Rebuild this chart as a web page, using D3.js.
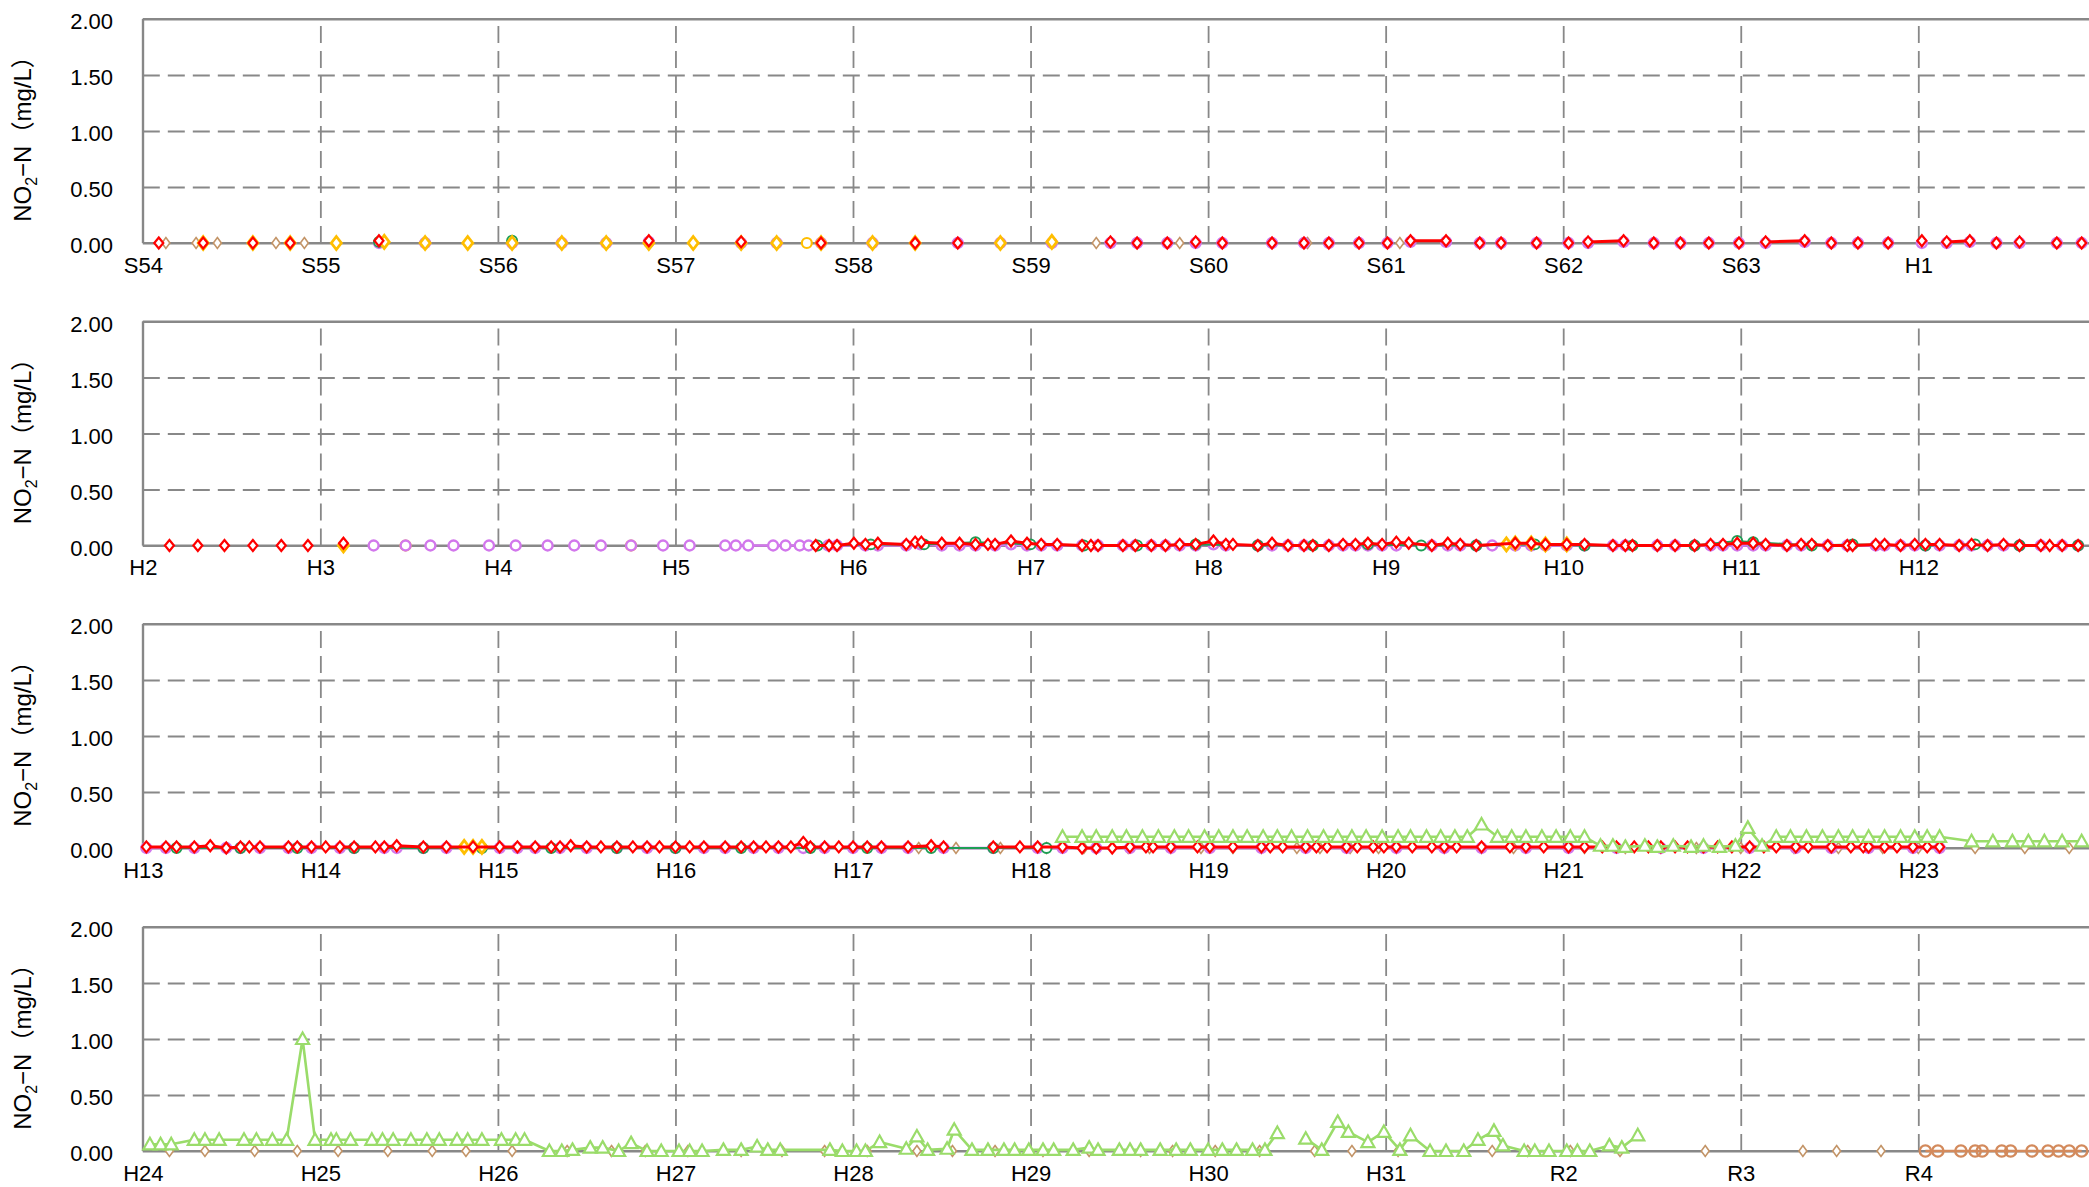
<!DOCTYPE html>
<html><head><meta charset="utf-8">
<script src="https://cdn.jsdelivr.net/npm/d3@7"></script>
<style>body{margin:0;background:#fff;overflow:hidden}svg{display:block}</style>
</head><body>
<svg id="chart" width="2089" height="1187"></svg>
<script>
// ---------- DATA ----------
const panelStartYears = [1979, 1990, 2001, 2012];
const yearLabels = ["S54","S55","S56","S57","S58","S59","S60","S61","S62","S63","H1",
  "H2","H3","H4","H5","H6","H7","H8","H9","H10","H11","H12",
  "H13","H14","H15","H16","H17","H18","H19","H20","H21","H22","H23",
  "H24","H25","H26","H27","H28","H29","H30","H31","R2","R3","R4"];
const yTickValues = [0, 0.5, 1.0, 1.5, 2.0];
const yTitleMain = "NO", yTitleSub = "2", yTitleRest = "\u2212N\uFF08mg/L\uFF09";

// each series: [decimal year, mg/L]; null = break in the line
const tanDiamond = [
 [1979.13,0],null,[1979.30,0],null,[1979.42,0],null,[1979.75,0],null,[1979.91,0],null,
 [1984.37,0],null,[1984.60,0],null,[1984.84,0],null,[1985.08,0],null,[1985.36,0],null,[1985.56,0],null,[1985.85,0],null,[1986.08,0],null,
 [2005.37,0],null,[2005.58,0],null,[2005.83,0],null,[2006.09,0],null,[2006.30,0],null,[2006.55,0],null,[2006.67,0],null,[2006.79,0],null,
 [2006.96,0],null,[2007.14,0],null,[2007.30,0],null,[2007.50,0],null,[2007.63,0],null,[2007.80,0],null,[2007.96,0],null,[2008.06,0],null,
 [2008.33,0],null,[2008.54,0],null,[2008.72,0],null,[2009.12,0],null,[2009.35,0],null,[2009.55,0],null,[2009.75,0],null,[2010.00,0],null,
 [2010.30,0],null,[2010.55,0],null,[2010.80,0],null,[2011.00,0],null,[2011.32,0],null,[2011.60,0],null,[2011.85,0],null,
 [2012.15,0],null,[2012.35,0],null,[2012.63,0],null,[2012.87,0],null,[2013.10,0],null,[2013.38,0],null,[2013.63,0],null,[2013.82,0],null,
 [2014.08,0],null,[2014.39,0],null,[2014.64,0],null,[2014.83,0],null,[2015.07,0],null,[2015.37,0],null,[2015.60,0],null,[2015.84,0],null,
 [2016.08,0],null,[2016.36,0],null,[2016.56,0],null,[2016.80,0],null,[2017.07,0],null,[2017.33,0],null,[2017.62,0],null,[2017.80,0],null,
 [2018.04,0],null,[2018.29,0],null,[2018.60,0],null,[2018.81,0],null,[2019.07,0],null,[2019.60,0],null,[2019.80,0],null,[2020.04,0],null,
 [2020.32,0],null,[2020.80,0],null,[2021.35,0],null,[2021.54,0],null,[2021.79,0]
];

const orangeCircle = [[1982.74,0],null,[1991.48,0],null,[1992.75,0]];

const purpleCircle = [
 [1980.33,0],null,[1980.59,0],null,[1981.08,0],null,[1981.36,0],null,[1981.61,0],null,[1981.85,0.01],null,[1982.37,0],null,[1982.57,0],null,
 [1982.82,0],null,[1983.11,0],null,[1983.59,0],null,[1983.83,0],null,[1984.12,0],null,[1984.45,0],null,[1984.60,0],null,[1984.77,0],null,
 [1984.93,0],null,[1985.08,0],null,[1985.36,0],null,[1985.54,0],null,[1985.68,0],null,[1985.85,0],null,[1986.01,0],null,[1986.14,0.01],null,
 [1986.34,0.01],null,[1986.53,0],null,[1986.65,0],null,[1986.85,0],null,[1987.03,0],null,[1987.14,0],null,[1987.34,0.01],null,[1987.51,0],null,
 [1987.66,0],null,[1987.82,0],null,[1987.99,0],null,[1988.14,0],null,[1988.36,0.01],null,[1988.51,0],null,[1988.66,0],null,[1988.83,0],null,
 [1989.02,0],null,[1989.16,0],null,[1989.29,0.01],null,[1989.44,0],null,[1989.57,0],null,[1989.78,0],null,[1989.92,0],null,
 [1991.30,0],null,[1991.48,0],null,[1991.62,0],null,[1991.75,0],null,[1991.95,0],null,[1992.10,0],null,[1992.28,0],null,[1992.43,0],null,
 [1992.58,0],null,[1992.75,0],null,[1992.93,0],null,[1993.08,0],null,
 [1993.28,0],[1993.34,0],[1993.41,0],[1993.55,0],[1993.62,0],[1993.70,0],[1993.75,0],[1993.86,0],[1993.91,0],[1994.07,0],[1994.14,0],
 [1994.30,0],[1994.38,0.01],[1994.50,0],[1994.60,0],[1994.69,0],[1994.80,0],[1994.89,0.01],[1994.98,0],[1995.06,0],[1995.15,0],[1995.29,0],
 [1995.38,0],[1995.52,0],[1995.59,0],[1995.68,0],[1995.76,0],[1995.84,0],[1995.93,0],[1996.03,0.01],[1996.10,0],[1996.28,0],[1996.36,0],
 [1996.45,0],[1996.54,0],[1996.68,0],[1996.76,0],[1996.83,0],[1996.90,0],[1996.98,0],[1997.06,0],[1997.26,0],[1997.35,0],[1997.42,0],
 [1997.51,0],[1997.60,0],[1997.73,0],[1997.82,0],[1997.90,0],[1998.02,0],[1998.12,0],[1998.28,0],[1998.35,0],[1998.53,0],[1998.63,0],
 [1998.74,0],[1998.83,0],[1998.90,0],[1998.98,0],[1999.07,0],[1999.14,0],[1999.26,0],[1999.34,0],[1999.49,0],[1999.60,0],[1999.76,0],
 [1999.81,0],[1999.90,0],[1999.98,0],[2000.04,0],[2000.12,0],[2000.23,0],[2000.30,0],[2000.39,0],[2000.48,0],[2000.57,0],[2000.69,0],
 [2000.81,0],[2000.90,0],
 [2001.02,0],[2001.13,0],[2001.29,0],[2001.47,0],[2001.55,0],[2001.66,0],[2001.82,0],[2001.95,0],[2002.11,0],[2002.19,0],[2002.36,0],
 [2002.43,0],[2002.58,0],[2002.71,0],[2003.01,0],[2003.11,0],[2003.21,0],[2003.35,0],[2003.50,0],[2003.67,0],[2003.84,0],[2004.00,0],
 [2004.16,0],[2004.28,0],[2004.44,0],[2004.58,0],[2004.72,0],[2004.84,0],[2005.00,0],[2005.16,0],[2005.31,0],[2005.51,0],[2005.79,0],
 [2006.04,0],[2006.18,0],[2006.37,0],[2006.56,0],[2006.79,0],[2007.01,0],[2007.30,0],[2007.55,0],[2007.78,0],[2008.06,0],[2008.33,0],
 [2008.54,0],[2008.79,0],[2009.03,0],[2009.30,0],[2009.55,0],[2009.79,0],[2010.05,0],[2010.31,0],[2010.51,0],[2010.72,0],[2010.97,0],
 [2011.12,0]
];

const greenCircle = [
 [1980.33,0.01],null,[1981.08,0.02],null,
 [1993.80,0],[1994.10,0.01],[1994.40,0.01],[1994.69,0.03],[1995.00,0.01],[1995.30,0],[1995.60,0],[1995.93,0.01],[1996.28,0],[1996.59,0],
 [1996.90,0.01],[1997.20,0],[1997.51,0],[1997.84,0.01],[1998.12,0],[1998.39,0],[1998.74,0],[1998.98,0.04],[1999.07,0.03],[1999.40,0],
 [1999.63,0.01],[2000.04,0],[2000.32,0.01],[2000.57,0],[2000.90,0],
 [2001.19,0],[2001.55,0],[2001.87,0],[2002.19,0],[2002.58,0],[2002.91,0],[2003.30,0],[2003.67,0],[2004.00,0],[2004.37,0],[2004.76,0],
 [2005.08,0],[2005.44,0],[2005.79,0],[2006.09,0]
];

const orangeDiamond = [
 [1979.34,0],null,[1979.62,0],null,[1979.83,0],null,[1980.09,0],null,[1980.36,0.01],null,[1980.59,0],null,[1980.83,0],null,[1981.08,0],null,
 [1981.36,0],null,[1981.61,0],null,[1981.85,0],null,[1982.10,0],null,[1982.37,0],null,[1982.57,0],null,[1982.82,0],null,[1983.11,0],null,
 [1983.35,0],null,[1983.83,0],null,[1984.12,0.01],null,[1991.13,0],null,
 [1997.68,0.01],[1997.73,0.02],[1997.82,0.02],[1997.90,0.01],[1998.02,0.01],null,
 [2002.81,0.01],[2002.86,0.01],[2002.91,0.01]
];

const redDiamond = [
 [1979.09,0],null,[1979.34,0],null,[1979.62,0],null,[1979.83,0],null,[1980.33,0.02],null,[1981.85,0.02],null,[1982.37,0.01],null,
 [1982.82,0],null,[1983.35,0],null,[1983.59,0],null,[1984.45,0.01],null,[1984.60,0],null,[1984.77,0],null,[1984.93,0.01],null,
 [1985.08,0],null,[1985.36,0],null,[1985.54,0],null,[1985.68,0],null,[1985.85,0],null,[1986.01,0],null,
 [1986.14,0.02],[1986.34,0.02],null,[1986.53,0],null,[1986.65,0],null,[1986.85,0],null,[1987.03,0],null,
 [1987.14,0.01],[1987.34,0.02],null,[1987.51,0],null,[1987.66,0],null,[1987.82,0],null,[1987.99,0],null,
 [1988.14,0.01],[1988.36,0.02],null,[1988.51,0],null,[1988.66,0],null,[1988.83,0],null,[1989.02,0.02],null,
 [1989.16,0.01],[1989.29,0.02],null,[1989.44,0],null,[1989.57,0.01],null,[1989.78,0],null,[1989.92,0],null,
 [1990.15,0],null,[1990.31,0],null,[1990.46,0],null,[1990.62,0],null,[1990.78,0],null,[1990.93,0],null,[1991.13,0.02],null,
 [1993.79,0],[1993.865,0],[1993.91,0],[1994.005,0.02],[1994.07,0.01],[1994.14,0.02],[1994.30,0.01],[1994.35,0.03],[1994.385,0.03],
 [1994.50,0.02],[1994.60,0.02],[1994.69,0.01],[1994.76,0.01],[1994.80,0.01],[1994.89,0.04],[1994.98,0.02],[1995.06,0.01],[1995.15,0.01],
 [1995.29,0],[1995.34,0],[1995.38,0],[1995.52,0],[1995.59,0],[1995.68,0],[1995.76,0],[1995.84,0.01],[1995.93,0.01],[1996.03,0.04],
 [1996.10,0.01],[1996.14,0.01],[1996.28,0],[1996.36,0.02],[1996.45,0],[1996.54,0],[1996.59,0],[1996.68,0],[1996.76,0.01],[1996.83,0.01],
 [1996.90,0.02],[1996.98,0.01],[1997.06,0.03],[1997.13,0.02],[1997.26,0],[1997.35,0.02],[1997.42,0.01],[1997.51,0],[1997.73,0.02],
 [1997.82,0.02],[1997.90,0.01],[1998.02,0.01],[1998.12,0.01],[1998.28,0],[1998.35,0],[1998.39,0],[1998.53,0],[1998.63,0],[1998.74,0],
 [1998.83,0.01],[1998.90,0.01],[1998.98,0.02],[1999.07,0.02],[1999.14,0.01],[1999.26,0],[1999.34,0.01],[1999.40,0.01],[1999.49,0],
 [1999.60,0],[1999.63,0],[1999.76,0.01],[1999.81,0.01],[1999.90,0],[1999.98,0.01],[2000.04,0.01],[2000.12,0.01],[2000.23,0],[2000.30,0.01],
 [2000.39,0],[2000.48,0.01],[2000.57,0],[2000.69,0],[2000.74,0],[2000.81,0],[2000.90,0],
 [2001.02,0.01],[2001.13,0.01],[2001.19,0.01],[2001.29,0.01],[2001.38,0.02],[2001.47,0],[2001.55,0.01],[2001.60,0.01],[2001.66,0.01],
 [2001.82,0.01],[2001.87,0.01],[2001.95,0.01],[2002.03,0.01],[2002.11,0.01],[2002.19,0.01],[2002.31,0.01],[2002.36,0.01],[2002.43,0.02],
 [2002.58,0.01],[2002.71,0.01],[2002.86,0.01],[2003.01,0.01],[2003.11,0.01],[2003.21,0.01],[2003.30,0.01],[2003.35,0.01],[2003.41,0.02],
 [2003.50,0.01],[2003.58,0.01],[2003.67,0.01],[2003.76,0.01],[2003.84,0.01],[2003.91,0.01],[2004.00,0.01],[2004.08,0.01],[2004.16,0.01],
 [2004.28,0.01],[2004.37,0.01],[2004.44,0.01],[2004.51,0.01],[2004.58,0.01],[2004.65,0.01],[2004.72,0.05],[2004.76,0.01],[2004.84,0.01],
 [2004.92,0.01],[2005.00,0.01],[2005.08,0.01],[2005.16,0.01],[2005.31,0.01],[2005.44,0.02],[2005.51,0.01],null,
 [2005.79,0.01],[2005.94,0.01],[2006.04,0.01],[2006.18,0.01],[2006.29,0],[2006.37,0],[2006.46,0],[2006.56,0.01],[2006.65,0.01],
 [2006.69,0.01],[2006.79,0.01],[2006.94,0.01],[2007.01,0.01],[2007.14,0.01],[2007.30,0.01],[2007.35,0.01],[2007.42,0.01],[2007.55,0.01],
 [2007.61,0.01],[2007.67,0.01],[2007.78,0.01],[2007.84,0.01],[2007.93,0.01],[2007.99,0.01],[2008.06,0.01],[2008.15,0.01],[2008.26,0.01],
 [2008.33,0.01],[2008.40,0.01],[2008.54,0.01],[2008.70,0.01],[2008.79,0.01],[2008.89,0.01],[2009.03,0.01],[2009.12,0.01],[2009.22,0.01],
 [2009.30,0.01],[2009.40,0.01],[2009.48,0.01],[2009.55,0.01],[2009.63,0.01],[2009.70,0.01],[2009.79,0.01],[2009.87,0.01],[2009.95,0.01],
 [2010.05,0.01],[2010.13,0.01],[2010.20,0.01],[2010.31,0.01],[2010.38,0.01],[2010.51,0.01],[2010.62,0.01],[2010.69,0.01],[2010.72,0.01],
 [2010.81,0.01],[2010.88,0.01],[2010.97,0.01],[2011.05,0.01],[2011.12,0.01]
];

const lightGreenTriangle = [
 [2006.18,0.10],[2006.29,0.10],[2006.37,0.10],[2006.46,0.10],[2006.54,0.10],[2006.63,0.10],[2006.72,0.10],[2006.81,0.10],[2006.89,0.10],
 [2006.98,0.10],[2007.06,0.10],[2007.14,0.10],[2007.22,0.10],[2007.31,0.10],[2007.39,0.10],[2007.47,0.10],[2007.56,0.10],[2007.65,0.10],
 [2007.73,0.10],[2007.81,0.10],[2007.89,0.10],[2007.98,0.10],[2008.07,0.10],[2008.14,0.10],[2008.23,0.10],[2008.31,0.10],[2008.39,0.10],
 [2008.46,0.10],[2008.54,0.21],[2008.63,0.10],[2008.71,0.10],[2008.79,0.10],[2008.88,0.10],[2008.96,0.10],[2009.04,0.10],[2009.12,0.10],
 [2009.21,0.02],[2009.28,0.02],[2009.35,0.01],[2009.46,0.02],[2009.53,0.01],[2009.62,0.02],[2009.72,0.01],[2009.79,0.02],[2009.88,0.01],
 [2009.97,0.02],[2010.04,0.18],[2010.12,0.02],[2010.20,0.10],[2010.28,0.10],[2010.37,0.10],[2010.46,0.10],[2010.55,0.10],[2010.63,0.10],
 [2010.72,0.10],[2010.81,0.10],[2010.90,0.10],[2010.98,0.10],[2011.05,0.10],[2011.12,0.10],[2011.30,0.06],[2011.42,0.06],[2011.53,0.06],
 [2011.62,0.06],[2011.71,0.06],[2011.81,0.06],[2011.92,0.06],
 [2012.04,0.06],[2012.10,0.06],[2012.16,0.06],[2012.29,0.10],[2012.35,0.10],[2012.43,0.10],[2012.57,0.10],[2012.64,0.10],[2012.73,0.10],
 [2012.81,0.10],[2012.90,1.00],[2012.97,0.10],[2013.06,0.10],[2013.09,0.10],[2013.17,0.10],[2013.29,0.10],[2013.35,0.10],[2013.41,0.10],
 [2013.51,0.10],[2013.60,0.10],[2013.67,0.10],[2013.77,0.10],[2013.83,0.10],[2013.91,0.10],[2014.02,0.10],[2014.10,0.10],[2014.15,0.10],
 [2014.29,0.00],[2014.36,0.00],[2014.42,0.01],[2014.52,0.03],[2014.59,0.03],[2014.68,0.00],[2014.75,0.07],[2014.84,0.00],[2014.92,0.00],
 [2015.02,0.00],[2015.08,0.00],[2015.15,0.00],[2015.27,0.01],[2015.37,0.01],[2015.46,0.04],[2015.52,0.01],[2015.59,0.01],[2015.87,0.01],
 [2015.94,0.00],[2016.02,0.00],[2016.07,0.00],[2016.15,0.08],[2016.30,0.02],[2016.36,0.13],[2016.42,0.01],[2016.53,0.02],[2016.57,0.19],
 [2016.67,0.01],[2016.76,0.01],[2016.85,0.01],[2016.91,0.01],[2016.99,0.01],[2017.07,0.01],[2017.13,0.01],[2017.24,0.01],[2017.33,0.03],
 [2017.38,0.01],[2017.50,0.01],[2017.56,0.01],[2017.62,0.01],[2017.73,0.01],[2017.82,0.01],[2017.90,0.01],[2018.00,0.01],[2018.08,0.01],
 [2018.16,0.01],[2018.25,0.01],[2018.32,0.01],[2018.39,0.16],null,
 [2018.55,0.11],[2018.64,0.01],[2018.73,0.26],[2018.79,0.17],[2018.90,0.08],[2018.99,0.17],[2019.08,0.01],[2019.14,0.14],[2019.25,0.00],
 [2019.34,0.00],[2019.44,0.00],[2019.52,0.10],[2019.61,0.18],[2019.66,0.05],[2019.78,0.00],[2019.84,0.00],[2019.92,0.00],[2020.02,0.00],
 [2020.08,0.00],[2020.15,0.00],[2020.26,0.05],[2020.33,0.03],[2020.42,0.14]
];

const brownCircle = [
 [2022.04,0],[2022.11,0],[2022.24,0],[2022.32,0],[2022.36,0],[2022.47,0],[2022.52,0],[2022.64,0],[2022.73,0],[2022.79,0],[2022.85,0],[2022.92,0]
];

// ---------- LAYOUT / STYLE ----------
const W = 2089, H = 1187;
const plotLeft = 142.8, yearWidth = 177.55, yearsPerPanel = 11;
const panelHeight = 224;
const panelBottoms = [243, 545.5, 848, 1151];
const gridColor = "#888888";
const font = "'Liberation Sans', Arial, 'Noto Sans CJK JP', sans-serif";

const shapes = {
  diamond: "M0,-5.5L4.5,0L0,5.5L-4.5,0Z",
  bigDiamond: "M0,-6.5L5,0L0,6.5L-5,0Z",
  smallDiamond: "M0,-5.5L4,0L0,5.5L-4,0Z",
  circle: d3.symbol(d3.symbolCircle, 78)(),
  bigCircle: d3.symbol(d3.symbolCircle, 100)(),
  triangle: "M0,-6.5L6.5,5L-6.5,5Z"
};

const seriesList = [
  {data: tanDiamond, color: "#C39467", shape: shapes.smallDiamond, sw: 1.6, fill: "#fff", line: 0},
  {data: orangeCircle, color: "#FFBE00", shape: shapes.circle, sw: 2.2, fill: "#fff", line: 0},
  {data: purpleCircle, color: "#D277EC", shape: shapes.circle, sw: 2.4, fill: "#fff", line: 2.5},
  {data: greenCircle, color: "#1E9E55", shape: shapes.circle, sw: 2, fill: "#fff", line: 2},
  {data: orangeDiamond, color: "#FFBE00", shape: shapes.bigDiamond, sw: 2.8, fill: "#fff", line: 2.5},
  {data: redDiamond, color: "#FF0000", shape: shapes.diamond, sw: 2.2, fill: "#fff", line: 3},
  {data: lightGreenTriangle, color: "#9ADC6A", shape: shapes.triangle, sw: 2.2, fill: "#fff", line: 2.6},
  {data: brownCircle, color: "#D38A5C", shape: shapes.bigCircle, sw: 2.4, fill: "none", line: 2.4}
];

const svg = d3.select("#chart");
svg.append("rect").attr("width", W).attr("height", H).attr("fill", "#fff");

panelStartYears.forEach((start, p) => {
  const bottom = panelBottoms[p], top = bottom - panelHeight;
  const end = start + yearsPerPanel;
  const x = d3.scaleLinear().domain([start, end]).range([plotLeft, plotLeft + yearsPerPanel * yearWidth]);
  const y = d3.scaleLinear().domain([0, 2]).range([bottom, top]);
  const g = svg.append("g");

  // horizontal dashed grid
  const yAxis = d3.axisLeft(y).tickValues(yTickValues).tickFormat(d3.format(".2f"))
    .tickSize(-(W - plotLeft + 20)).tickPadding(30);
  const ya = g.append("g").attr("transform", `translate(${plotLeft},0)`).call(yAxis);
  ya.select(".domain").remove();
  ya.selectAll(".tick line").attr("stroke", gridColor).attr("stroke-width", 1.8)
    .attr("stroke-dasharray", d => (d === 0 || d === 2) ? null : "17,8");
  ya.selectAll(".tick text").attr("font-family", font).attr("font-size", 22).attr("fill", "#000")
    .attr("x", 113 - plotLeft).attr("dy", "0.45em");

  // vertical dashed grid + labels
  const yearTicks = d3.range(start, end);
  const xAxis = d3.axisBottom(x).tickValues(yearTicks)
    .tickFormat(d => yearLabels[d - panelStartYears[0]])
    .tickSize(-panelHeight).tickPadding(14);
  const xa = g.append("g").attr("transform", `translate(0,${bottom})`).call(xAxis);
  xa.select(".domain").remove();
  xa.selectAll(".tick line").attr("stroke", gridColor).attr("stroke-width", 1.8)
    .attr("stroke-dasharray", d => d === start ? null : "17,8");
  xa.selectAll(".tick text").attr("font-family", font).attr("font-size", 22).attr("fill", "#000");

  // solid frame lines
  g.append("line").attr("x1", plotLeft).attr("x2", W).attr("y1", bottom).attr("y2", bottom)
    .attr("stroke", gridColor).attr("stroke-width", 2.2);
  g.append("line").attr("x1", plotLeft).attr("x2", W).attr("y1", top).attr("y2", top)
    .attr("stroke", gridColor).attr("stroke-width", 2);
  g.append("line").attr("x1", plotLeft).attr("x2", plotLeft).attr("y1", top).attr("y2", bottom)
    .attr("stroke", gridColor).attr("stroke-width", 2);

  // y title
  const cy = (top + bottom) / 2 + 2;
  const t = g.append("text").attr("transform", `translate(31,${cy}) rotate(-90)`)
    .attr("text-anchor", "middle").attr("font-family", font).attr("font-size", 24).attr("fill", "#000");
  t.append("tspan").text(yTitleMain);
  t.append("tspan").attr("font-size", 16).attr("dy", 6).text(yTitleSub);
  t.append("tspan").attr("dy", -6).text(yTitleRest);

  // data
  const line = d3.line().defined(d => d !== null).x(d => x(d[0])).y(d => y(d[1]));
  seriesList.forEach(s => {
    const pts = s.data.map(d => (d && d[0] >= start && d[0] < end) ? d : null);
    const sg = g.append("g");
    if (s.line) {
      sg.append("path").attr("d", line(pts)).attr("fill", "none")
        .attr("stroke", s.color).attr("stroke-width", s.line).attr("stroke-linejoin", "round");
    }
    sg.selectAll("path.m").data(pts.filter(d => d)).join("path").attr("class", "m")
      .attr("transform", d => `translate(${x(d[0])},${y(d[1])})`)
      .attr("d", s.shape).attr("fill", s.fill).attr("stroke", s.color).attr("stroke-width", s.sw);
  });
});
</script>
</body></html>
